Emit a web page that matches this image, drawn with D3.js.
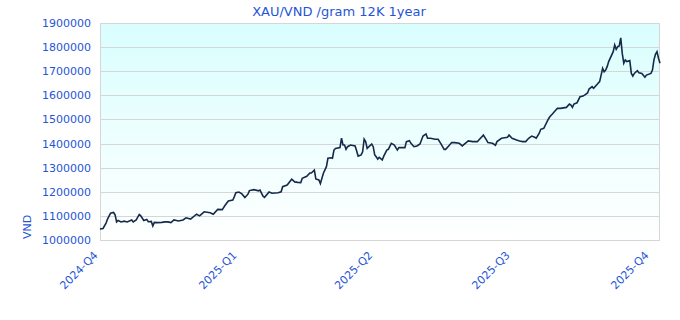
<!DOCTYPE html>
<html><head><meta charset="utf-8">
<script src="https://cdn.jsdelivr.net/npm/d3@7"></script>
<style>body{margin:0;background:#fff;}svg{display:block;font-family:"DejaVu Sans",sans-serif;}</style>
</head><body><svg id="c" width="680" height="320"></svg>
<script>
const dates = ["2024-10-01","2024-10-03","2024-10-05","2024-10-06","2024-10-08","2024-10-10","2024-10-11","2024-10-12","2024-10-13","2024-10-15","2024-10-17","2024-10-19","2024-10-22","2024-10-23","2024-10-25","2024-10-27","2024-10-28","2024-10-30","2024-11-01","2024-11-02","2024-11-04","2024-11-05","2024-11-06","2024-11-08","2024-11-11","2024-11-13","2024-11-15","2024-11-17","2024-11-19","2024-11-22","2024-11-25","2024-11-27","2024-11-30","2024-12-04","2024-12-06","2024-12-09","2024-12-13","2024-12-15","2024-12-18","2024-12-21","2024-12-23","2024-12-25","2024-12-28","2024-12-29","2024-12-30","2025-01-01","2025-01-03","2025-01-05","2025-01-07","2025-01-08","2025-01-11","2025-01-14","2025-01-15","2025-01-17","2025-01-18","2025-01-21","2025-01-23","2025-01-27","2025-01-29","2025-01-30","2025-02-02","2025-02-05","2025-02-07","2025-02-09","2025-02-11","2025-02-12","2025-02-15","2025-02-17","2025-02-18","2025-02-20","2025-02-21","2025-02-23","2025-02-24","2025-02-26","2025-02-28","2025-03-01","2025-03-03","2025-03-04","2025-03-05","2025-03-06","2025-03-09","2025-03-10","2025-03-11","2025-03-12","2025-03-13","2025-03-14","2025-03-16","2025-03-19","2025-03-20","2025-03-21","2025-03-23","2025-03-24","2025-03-25","2025-03-26","2025-03-27","2025-03-30","2025-03-31","2025-04-01","2025-04-02","2025-04-03","2025-04-04","2025-04-06","2025-04-07","2025-04-09","2025-04-10","2025-04-12","2025-04-14","2025-04-16","2025-04-17","2025-04-21","2025-04-22","2025-04-24","2025-04-25","2025-04-27","2025-04-29","2025-05-01","2025-05-03","2025-05-05","2025-05-06","2025-05-08","2025-05-11","2025-05-13","2025-05-15","2025-05-17","2025-05-18","2025-05-20","2025-05-22","2025-05-24","2025-05-27","2025-05-29","2025-05-31","2025-06-02","2025-06-05","2025-06-08","2025-06-09","2025-06-12","2025-06-14","2025-06-15","2025-06-18","2025-06-20","2025-06-21","2025-06-24","2025-06-26","2025-06-28","2025-06-29","2025-07-01","2025-07-04","2025-07-06","2025-07-08","2025-07-10","2025-07-12","2025-07-14","2025-07-16","2025-07-17","2025-07-19","2025-07-20","2025-07-22","2025-07-25","2025-07-26","2025-07-28","2025-07-30","2025-07-31","2025-08-02","2025-08-06","2025-08-08","2025-08-09","2025-08-10","2025-08-11","2025-08-13","2025-08-15","2025-08-17","2025-08-18","2025-08-20","2025-08-21","2025-08-23","2025-08-24","2025-08-27","2025-08-28","2025-08-29","2025-08-30","2025-08-31","2025-09-01","2025-09-02","2025-09-03","2025-09-06","2025-09-07","2025-09-08","2025-09-09","2025-09-10","2025-09-11","2025-09-12","2025-09-13","2025-09-14","2025-09-15","2025-09-17","2025-09-18","2025-09-19","2025-09-20","2025-09-22","2025-09-23","2025-09-25","2025-09-27","2025-09-28","2025-10-01","2025-10-02","2025-10-03","2025-10-04","2025-10-05","2025-10-06","2025-10-07"];
const prices = [1046000,1048000,1070000,1087000,1111000,1114000,1104000,1075000,1081000,1075000,1078000,1075000,1083000,1075000,1083000,1106000,1100000,1081000,1085000,1076000,1077000,1058000,1073000,1072000,1073000,1075000,1075000,1072000,1083000,1079000,1083000,1092000,1087000,1107000,1100000,1117000,1113000,1107000,1127000,1126000,1145000,1162000,1166000,1180000,1196000,1199000,1191000,1176000,1190000,1205000,1209000,1204000,1207000,1182000,1177000,1199000,1194000,1196000,1200000,1221000,1228000,1252000,1241000,1239000,1238000,1256000,1264000,1278000,1278000,1290000,1253000,1249000,1234000,1277000,1304000,1339000,1341000,1339000,1373000,1380000,1383000,1422000,1394000,1394000,1376000,1387000,1394000,1390000,1370000,1348000,1353000,1366000,1418000,1408000,1380000,1398000,1387000,1353000,1345000,1335000,1343000,1332000,1348000,1373000,1376000,1401000,1394000,1373000,1383000,1383000,1408000,1412000,1401000,1387000,1390000,1398000,1431000,1440000,1422000,1422000,1418000,1418000,1398000,1376000,1376000,1390000,1404000,1404000,1401000,1390000,1401000,1411000,1408000,1408000,1415000,1435000,1415000,1404000,1401000,1393000,1408000,1422000,1424000,1426000,1435000,1422000,1415000,1411000,1408000,1408000,1422000,1431000,1426000,1422000,1443000,1459000,1463000,1501000,1511000,1525000,1539000,1546000,1546000,1550000,1564000,1560000,1550000,1564000,1569000,1594000,1597000,1601000,1610000,1626000,1636000,1629000,1650000,1657000,1684000,1712000,1698000,1705000,1719000,1740000,1781000,1809000,1791000,1802000,1805000,1838000,1774000,1733000,1747000,1740000,1744000,1691000,1680000,1691000,1702000,1694000,1691000,1675000,1684000,1691000,1705000,1747000,1770000,1781000,1754000,1733000];
const yTicks = [1000000,1100000,1200000,1300000,1400000,1500000,1600000,1700000,1800000,1900000];
const xTickDates = ["2024-10-01","2025-01-01","2025-04-01","2025-07-01","2025-10-01"];
const xTickLabels = ["2024-Q4","2025-Q1","2025-Q2","2025-Q3","2025-Q4"];
const title = "XAU/VND /gram 12K 1year";
const yLabel = "VND";

const parse = d3.utcParse("%Y-%m-%d");
const data = dates.map((d,i)=>({date:parse(d), v:prices[i]}));
const L=100, R=660, T=23, B=240;
const x = d3.scaleUtc().domain(d3.extent(data,d=>d.date)).range([L,R]);
const y = d3.scaleLinear().domain([1000000,1900000]).range([B,T]);
const svg = d3.select("#c");
const blue = "#1f56d6";

const defs = svg.append("defs");
const g = defs.append("linearGradient").attr("id","bg").attr("x1",0).attr("x2",0).attr("y1",0).attr("y2",1);
g.append("stop").attr("offset","0%").attr("stop-color","#d9fefe");
g.append("stop").attr("offset","100%").attr("stop-color","#ffffff");
svg.append("rect").attr("x",L).attr("y",T).attr("width",R-L).attr("height",B-T).attr("fill","url(#bg)");

// grid
svg.append("g").selectAll("line").data(yTicks).join("line")
  .attr("x1",L).attr("x2",R).attr("y1",d=>Math.round(y(d))+0.5).attr("y2",d=>Math.round(y(d))+0.5)
  .attr("stroke","#d6d6d6").attr("stroke-width",1);
svg.append("rect").attr("x",L+0.5).attr("y",T+0.5).attr("width",R-L-1).attr("height",B-T)
  .attr("fill","none").attr("stroke","#d6d6d6");

// y axis
const ya = svg.append("g").attr("transform",`translate(${L},0)`)
  .call(d3.axisLeft(y).tickValues(yTicks).tickSize(0).tickPadding(9).tickFormat(d3.format("d")));
ya.select(".domain").remove();
ya.selectAll("text").attr("fill",blue).attr("font-size",11).attr("font-family","DejaVu Sans");

// x axis
const xa = svg.append("g").attr("transform",`translate(0,${B})`)
  .call(d3.axisBottom(x).tickValues(xTickDates.map(parse)).tickSize(0).tickFormat((d,i)=>xTickLabels[i]));
xa.select(".domain").remove();
xa.selectAll("text").attr("fill",blue).attr("font-size",11).attr("font-family","DejaVu Sans")
  .attr("text-anchor","end").attr("dy",0).attr("y",0)
  .attr("transform","translate(-2,16) rotate(-45)");

// line
svg.append("path").datum(data)
  .attr("d", d3.line().x(d=>x(d.date)).y(d=>y(d.v)))
  .attr("fill","none").attr("stroke","#152a4a").attr("stroke-width",1.6).attr("stroke-linejoin","miter");

svg.append("text").attr("x",339).attr("y",16).attr("text-anchor","middle")
  .attr("fill",blue).attr("font-size",13).text(title);
svg.append("text").attr("transform","translate(31,227) rotate(-90)").attr("text-anchor","middle")
  .attr("fill",blue).attr("font-size",11).text(yLabel);
</script></body></html>
